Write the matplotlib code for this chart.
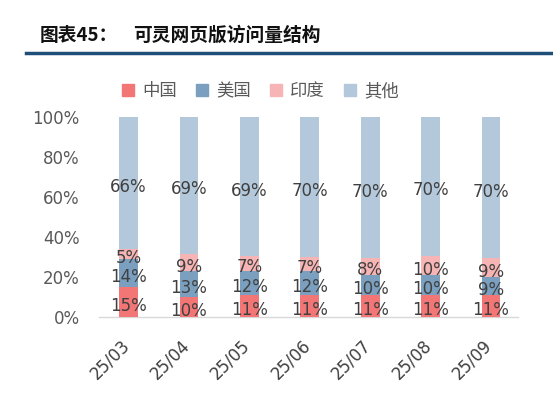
import numpy as np
import matplotlib
matplotlib.use("Agg")
import matplotlib.pyplot as plt
from matplotlib.lines import Line2D
from matplotlib.transforms import ScaledTranslation

plt.rcParams['font.family'] = ['DejaVu Sans', 'Noto Sans CJK SC']

# 数据
months = ['25/03', '25/04', '25/05', '25/06', '25/07', '25/08', '25/09']
china = [15, 10, 11, 11, 11, 11, 11]
usa = [14, 13, 12, 12, 10, 10, 9]
india = [5, 9, 7, 7, 8, 10, 9]
other = [66, 69, 69, 70, 70, 70, 70]
series_names = ['中国', '美国', '印度', '其他']
colors = ['#F27676', '#7A9FBF', '#F6B4B4', '#B3C8DB']

fig = plt.figure(figsize=(5.53, 4.0), dpi=100)
ax = fig.add_axes([0.179, 0.2075, 0.758, 0.5])

data = np.array([china, usa, india, other], dtype=float)
totals = data.sum(axis=0)
shares = data / totals * 100  # 百分比堆积

x = np.arange(len(months))
w = 0.31
bottom = np.zeros(len(months))
for vals, shr, c in zip(data, shares, colors):
    ax.bar(x, shr, w, bottom=bottom, color=c, clip_on=False, zorder=2)
    for xi, b, s, v in zip(x, bottom, shr, vals):
        ax.text(xi, b + s / 2 - 2, '%d%%' % v, ha='center', va='center',
                fontsize=12, color='#404040', zorder=3)
    bottom += shr

ax.set_xlim(-0.49, 6.45)
ax.set_ylim(0, 100)
ax.set_yticks([0, 20, 40, 60, 80, 100])
ax.set_yticklabels(['%d%%' % v for v in [0, 20, 40, 60, 80, 100]])
ax.set_xticks(x)
ax.set_xticklabels(months, rotation=45, ha='right', rotation_mode='anchor')
ax.tick_params(axis='both', length=0, labelsize=12, colors='#595959')
ax.tick_params(axis='x', pad=14, colors='#404040')
ax.tick_params(axis='y', pad=14)
offset = ScaledTranslation(-6 / 72, 0, fig.dpi_scale_trans)
for lab in ax.get_xticklabels():
    lab.set_transform(lab.get_transform() + offset)
for s in ['top', 'right', 'left']:
    ax.spines[s].set_visible(False)
ax.spines['bottom'].set_color('#D9D9D9')
ax.spines['bottom'].set_linewidth(1.0)
ax.spines['bottom'].set_zorder(1)

# 图例
handles = [Line2D([], [], marker='s', linestyle='none', markersize=8,
                  markerfacecolor=c, markeredgecolor=c) for c in colors]
fig.legend(handles, series_names, loc='center', bbox_to_anchor=(0.471, 0.772),
           ncol=4, frameon=False, prop={'family': 'Noto Sans CJK SC', 'size': 12.5},
           labelcolor='#595959', handlelength=0.7, handletextpad=0.45,
           columnspacing=1.1, borderaxespad=0)

# 标题
fig.text(40 / 553, 1 - 35.5 / 400, '图表45：', fontsize=13.5, fontweight='bold',
         family='Noto Sans CJK SC', va='center', ha='left', color='#111111')
fig.text(133 / 553, 1 - 35.5 / 400, '可灵网页版访问量结构', fontsize=13.5, fontweight='bold',
         family='Noto Sans CJK SC', va='center', ha='left', color='#111111')
fig.add_artist(Line2D([26 / 553, 1.0], [1 - 53 / 400, 1 - 53 / 400],
                      color='#1F4E79', linewidth=2.5, transform=fig.transFigure))

fig.savefig('out.png', dpi=100)
